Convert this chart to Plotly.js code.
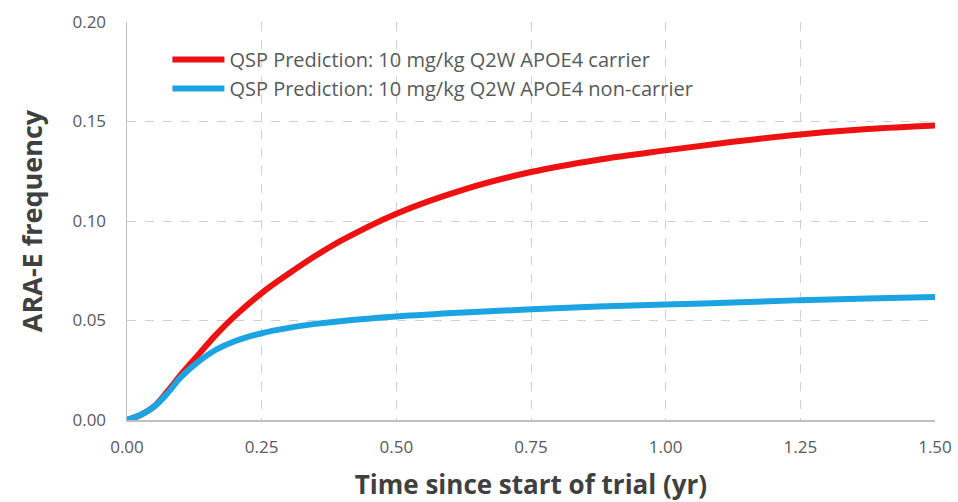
<!DOCTYPE html>
<html>
<head>
<meta charset="utf-8">
<script src="https://cdn.plot.ly/plotly-3.0.1.min.js"></script>
<style>
html,body{margin:0;padding:0;background:#fff;}
#chart{width:958px;height:502px;}
</style>
</head>
<body>
<div id="chart"></div>
<script>
const timeYr = [0, 0.025, 0.05, 0.075, 0.1, 0.135, 0.165, 0.2, 0.25, 0.3, 0.35, 0.4, 0.5, 0.625, 0.75, 0.875, 1.0, 1.125, 1.25, 1.375, 1.5];
const carrier = [0, 0.0025, 0.0068, 0.0143, 0.0228, 0.0336, 0.0428, 0.0522, 0.0638, 0.0735, 0.0825, 0.0905, 0.1037, 0.1158, 0.1246, 0.1308, 0.1355, 0.1398, 0.1435, 0.1462, 0.148];
const nonCarrier = [0, 0.0025, 0.0066, 0.0134, 0.0215, 0.0298, 0.0353, 0.0396, 0.0436, 0.0463, 0.0483, 0.0498, 0.052, 0.054, 0.0556, 0.057, 0.058, 0.059, 0.0602, 0.061, 0.0618];
const seriesNames = ["QSP Prediction: 10 mg/kg Q2W APOE4 carrier", "QSP Prediction: 10 mg/kg Q2W APOE4 non-carrier"];
const xTicks = [0, 0.25, 0.5, 0.75, 1.0, 1.25, 1.5];
const xTickText = ["0.00", "0.25", "0.50", "0.75", "1.00", "1.25", "1.50"];
const yTicks = [0, 0.05, 0.1, 0.15, 0.2];
const yTickText = ["0.00", "0.05", "0.10", "0.15", "0.20"];

const font = '"Open Sans", "Liberation Sans", sans-serif';

const traces = [
  {x: timeYr, y: carrier, name: seriesNames[0], mode: 'lines', line: {color: '#ee1111', width: 6, shape: 'spline', smoothing: 1}},
  {x: timeYr, y: nonCarrier, name: seriesNames[1], mode: 'lines', line: {color: '#1ba3e2', width: 6, shape: 'spline', smoothing: 1}}
];

const layout = {
  width: 958, height: 502,
  margin: {l: 127, r: 23, t: 22, b: 82},
  paper_bgcolor: '#fff', plot_bgcolor: '#fff',
  font: {family: font, color: '#595959', size: 17},
  showlegend: true,
  legend: {x: 0.05, y: 0.955, xanchor: 'left', yanchor: 'top', bgcolor: 'rgba(255,255,255,0)',
           font: {size: 20, color: '#595959', family: font}, tracegroupgap: 2, itemwidth: 52},
  xaxis: {
    range: [0, 1.5], tickvals: xTicks, ticktext: xTickText,
    showgrid: true, gridcolor: '#d0d0d0', griddash: 'dash', gridwidth: 1,
    showline: true, linecolor: '#bfbfbf', linewidth: 1.5, zeroline: false,
    ticks: 'outside', ticklen: 11, tickcolor: 'rgba(0,0,0,0)',
    tickfont: {size: 17, color: '#595959'},
    title: {text: 'Time since start of trial (yr)', font: {size: 26, color: '#404040', family: font, weight: 'bold'}, standoff: 20}
  },
  yaxis: {
    range: [0, 0.2], tickvals: yTicks, ticktext: yTickText,
    showgrid: true, gridcolor: '#d0d0d0', griddash: 'dash', gridwidth: 1,
    showline: true, linecolor: '#bfbfbf', linewidth: 1.5, zeroline: false,
    ticks: 'outside', ticklen: 16, tickcolor: 'rgba(0,0,0,0)',
    tickfont: {size: 17, color: '#595959'},
    title: {text: 'ARA-E frequency', font: {size: 27, color: '#404040', family: font, weight: 'bold'}, standoff: 22}
  }
};

Plotly.newPlot('chart', traces, layout, {displayModeBar: false, staticPlot: true});
</script>
</body>
</html>
